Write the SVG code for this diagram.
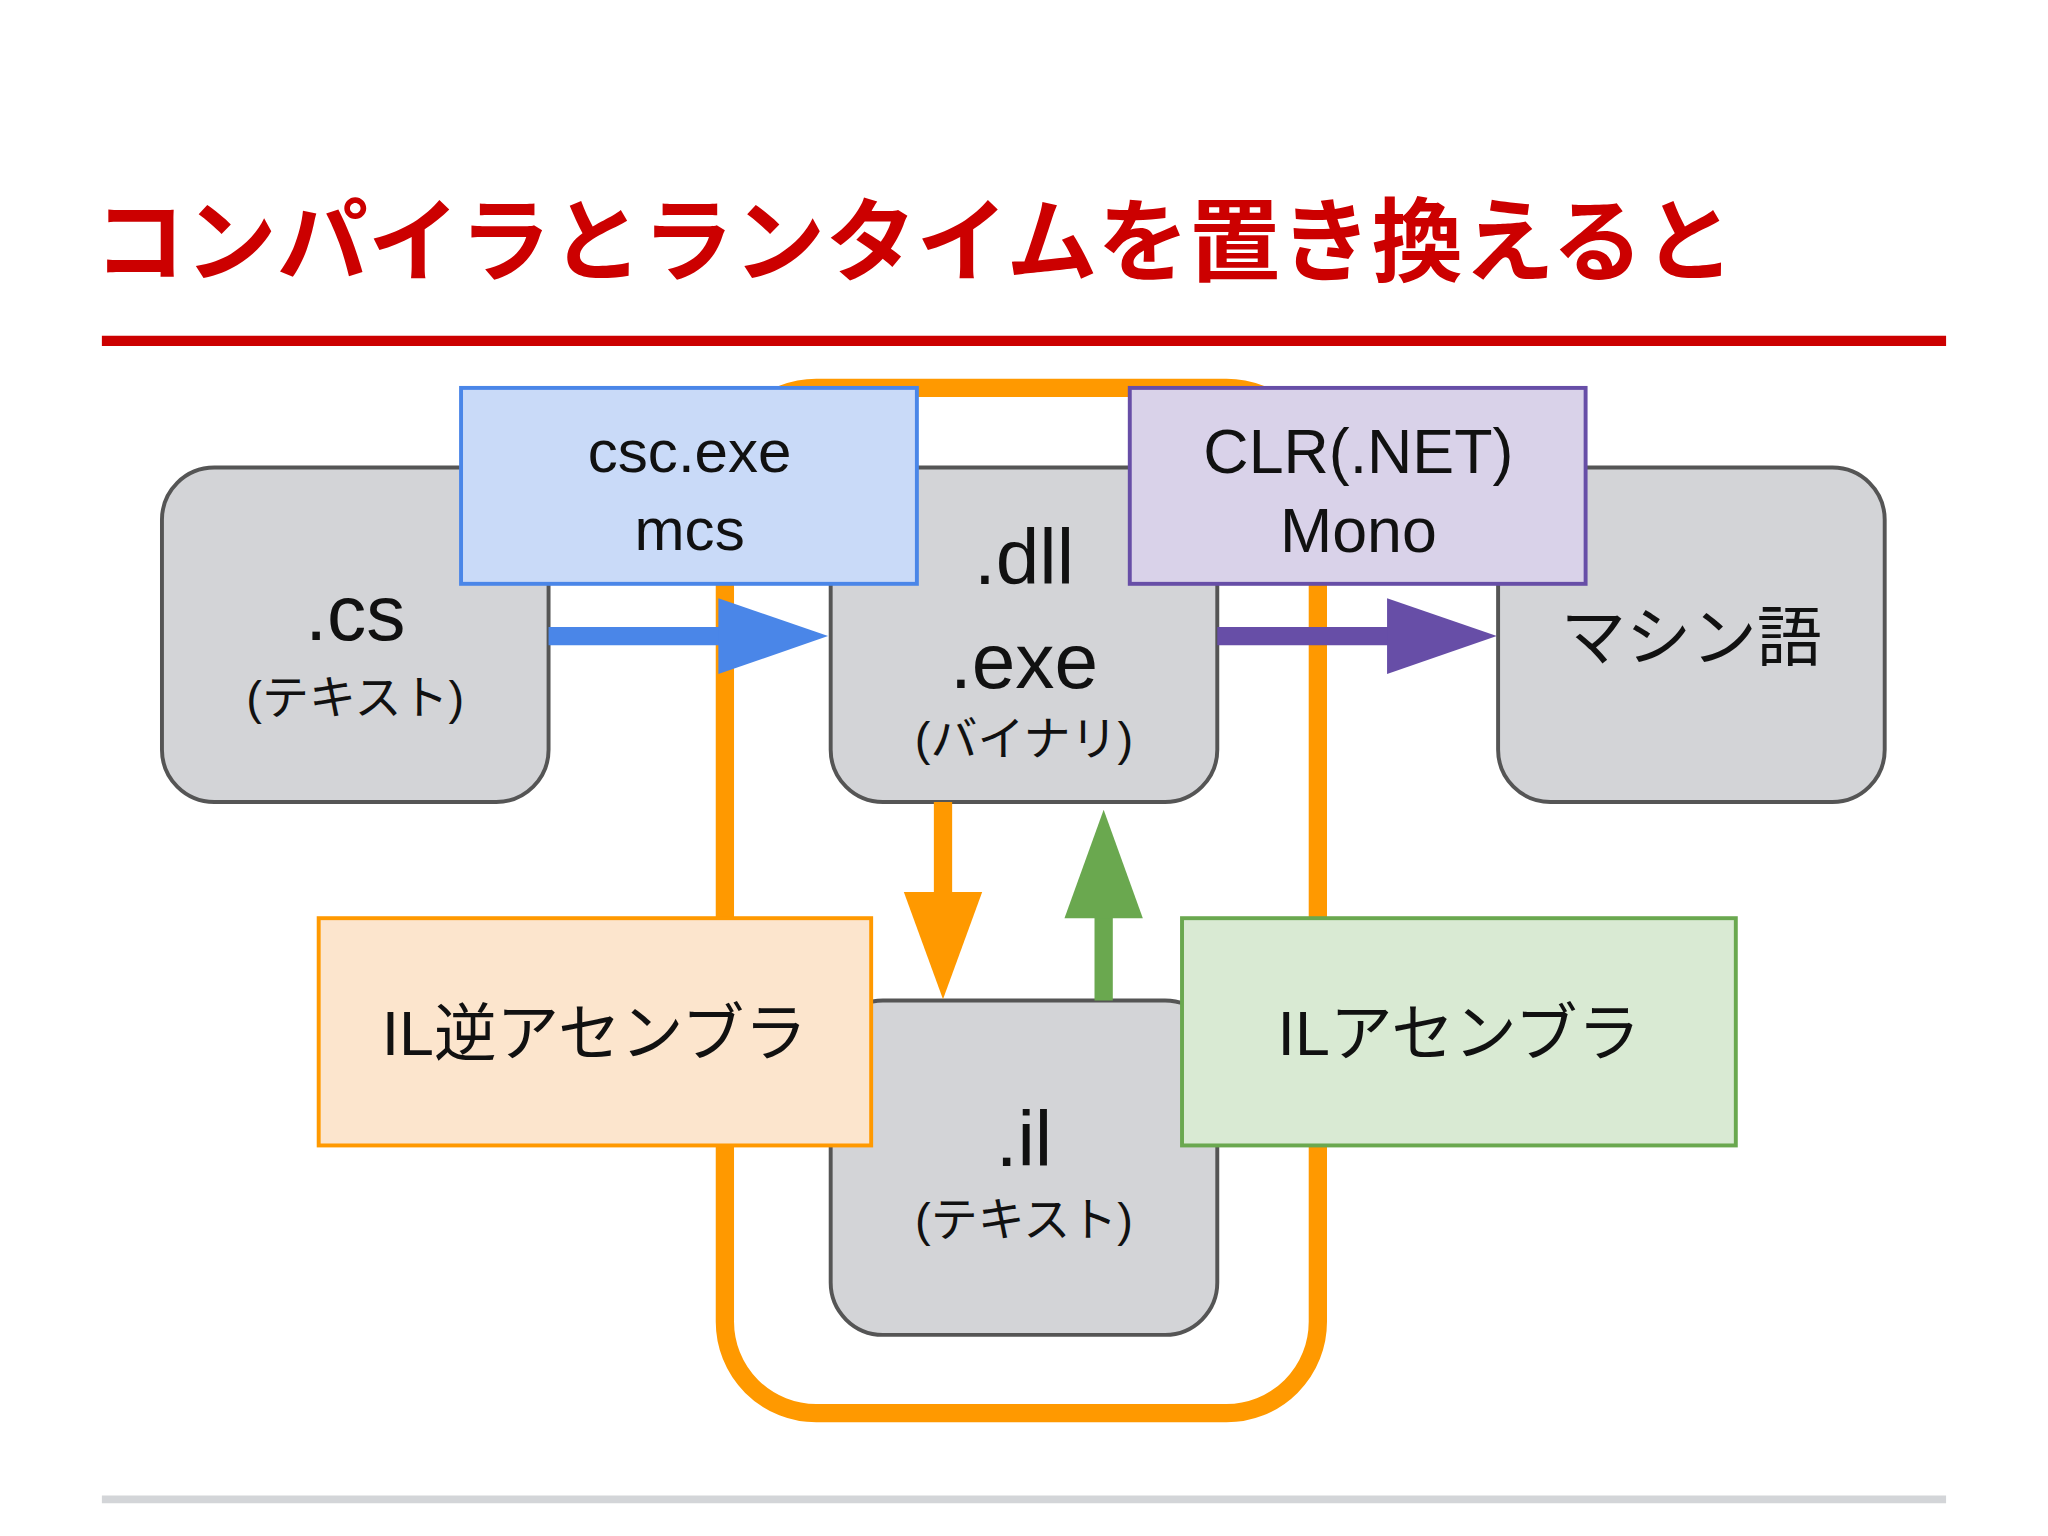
<svg xmlns="http://www.w3.org/2000/svg" width="2048" height="1536" viewBox="0 0 2048 1536">
<style>
text{font-family:"Liberation Sans","Noto Sans CJK JP",sans-serif;text-anchor:middle;fill:#111}
.g{fill:#d3d4d7;stroke:#555;stroke-width:3}
.big{font-size:60px}.sm{font-size:36px}.md{font-size:46px}
</style>
<rect width="2048" height="1536" fill="#fff"/>
<g transform="scale(1.3061)">
<text x="700" y="210" style="font-size:70px;font-weight:bold;fill:#cc0000;text-anchor:middle">コンパイラとランタイムを置き換えると</text>
<line x1="78" y1="261" x2="1490" y2="261" stroke="#cc0000" stroke-width="8"/>
<line x1="78" y1="1148" x2="1490" y2="1148" stroke="#d3d5d8" stroke-width="6"/>
<g id="loop"><rect x="555" y="297" width="454" height="785" rx="70" fill="none" stroke="#ff9900" stroke-width="14"/></g>
<g id="cs"><rect class="g" x="124" y="358" width="296" height="256" rx="40"/><text class="big" x="272" y="490">.cs</text><text class="sm" x="272" y="547">(テキスト)</text></g>
<g id="dll"><rect class="g" x="636" y="358" width="296" height="256" rx="40"/><text class="big" x="784" y="447">.dll</text><text class="big" x="784" y="527">.exe</text><text class="sm" x="784" y="578">(バイナリ)</text></g>
<g id="machine"><rect class="g" x="1147" y="358" width="296" height="256" rx="40"/><text x="1295" y="505" style="font-size:50px">マシン語</text></g>
<g id="il"><rect class="g" x="636" y="766" width="296" height="256" rx="40"/><text class="big" x="784" y="893">.il</text><text class="sm" x="784" y="946">(テキスト)</text></g>
<g id="csc"><rect x="353" y="297" width="349" height="150" fill="#c9daf8" stroke="#4a86e8" stroke-width="3"/><text class="md" x="528" y="361">csc.exe</text><text class="md" x="528" y="421">mcs</text></g>
<g id="clr"><rect x="865" y="297" width="349" height="150" fill="#d9d2e9" stroke="#674ea7" stroke-width="3"/><text x="1040" y="362" style="font-size:48px">CLR(.NET)</text><text x="1040" y="423" style="font-size:48px">Mono</text></g>
<g id="ildasm"><rect x="244" y="703" width="423" height="174" fill="#fce5cd" stroke="#ff9900" stroke-width="3"/><text x="455" y="808" style="font-size:48px">IL逆アセンブラ</text></g>
<g id="ilasm"><rect x="905" y="703" width="424" height="174" fill="#d9ead3" stroke="#6aa84f" stroke-width="3"/><text x="1117" y="808" style="font-size:48px">ILアセンブラ</text></g>
<g id="connectors">
<line x1="420" y1="487" x2="555" y2="487" stroke="#4a86e8" stroke-width="14"/><polygon points="550,458 550,516 634,487" fill="#4a86e8"/>
<line x1="932" y1="487" x2="1065" y2="487" stroke="#674ea7" stroke-width="14"/><polygon points="1062,458 1062,516 1146,487" fill="#674ea7"/>
<line x1="722" y1="614" x2="722" y2="685" stroke="#ff9900" stroke-width="14"/><polygon points="692,683 752,683 722,765" fill="#ff9900"/>
<line x1="845" y1="766" x2="845" y2="700" stroke="#6aa84f" stroke-width="14"/><polygon points="815,703 875,703 845,620" fill="#6aa84f"/>
</g>
</g>
</svg>
